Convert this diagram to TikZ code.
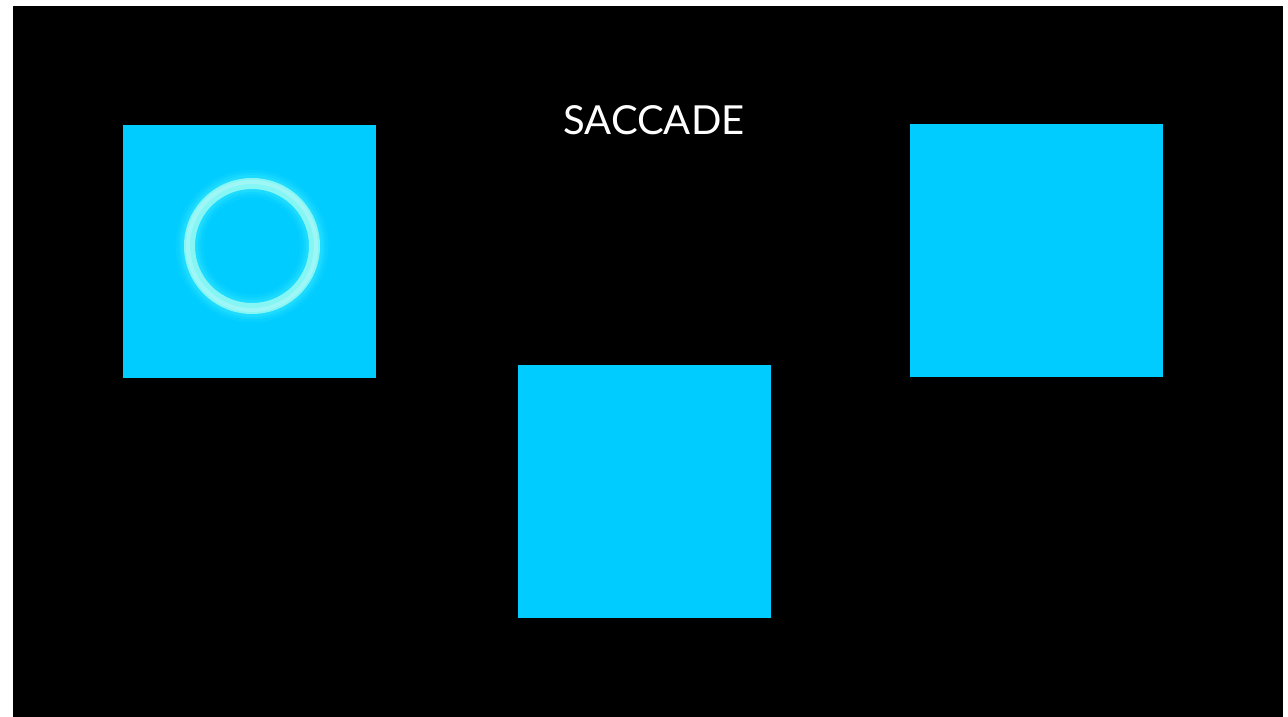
\documentclass[tikz,border=0pt]{standalone}
\usepackage{fontspec}
\setmainfont{Lato}
\definecolor{sqcyan}{HTML}{00CCFF}
\definecolor{ringcyan}{HTML}{86F6F4}
\definecolor{glowcyan}{HTML}{3CEBFF}
\tikzset{
  sq/.style={fill=sqcyan, draw=none},
  title/.style={text=white, font=\fontsize{40}{48}\selectfont, inner sep=0pt}
}
\begin{document}
\begin{tikzpicture}[x=1pt,y=-1pt]
\useasboundingbox (0,0) rectangle (1288,717);
\fill[white] (0,0) rectangle (1288,717);
\fill[black] (13,6) rectangle (1283,717);
\fill[sq] (123,125) rectangle (376,378);
\fill[sq] (518,365) rectangle (771,618);
\fill[sq] (910,124) rectangle (1163,377);
% glow of ring
\foreach \w/\o in {28/0.12,22/0.2,17/0.3}{
  \draw[glowcyan, line width=\w pt, opacity=\o] (252,246) circle (62.5);
}
\draw[ringcyan, line width=11pt] (252,246) circle (62.5);
\draw[white, line width=4pt, opacity=0.2] (252,246) circle (64);
\node[title, anchor=base] (t) at (654,134) {SACCADE};
\end{tikzpicture}
\end{document}
